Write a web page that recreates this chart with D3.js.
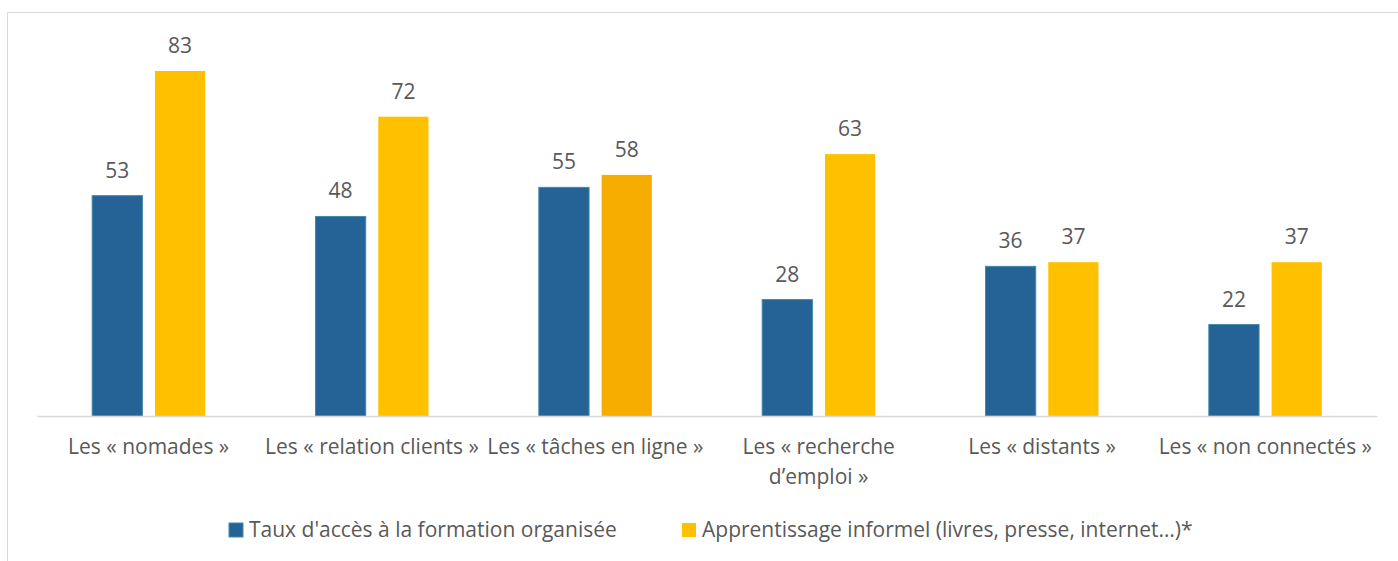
<!DOCTYPE html>
<html>
<head>
<meta charset="utf-8">
<script src="https://cdn.jsdelivr.net/npm/d3@7"></script>
<style>
  body { margin: 0; background: #fff; }
  svg text { font-family: "Open Sans", sans-serif; fill: #595959; }
</style>
</head>
<body>
<div id="chart"></div>
<script>
// Data
const categories = ["Les « nomades »", "Les « relation clients »", "Les « tâches en ligne »",
  "Les « recherche d’emploi »", "Les « distants »", "Les « non connectés »"];
const seriesNames = ["Taux d'accès à la formation organisée", "Apprentissage informel (livres, presse, internet…)*"];
const formation = [53, 48, 55, 28, 36, 22];
const informel = [83, 72, 58, 63, 37, 37];

const W = 1398, H = 561;
const colors = ["#256296", "#FFC000"];
const highlight = "#F7AD00";

const svg = d3.select("#chart")
  .append("svg")
  .attr("width", W)
  .attr("height", H);

// Frame
svg.append("line").attr("x1", 7.5).attr("x2", W).attr("y1", 12.5).attr("y2", 12.5)
  .attr("stroke", "#d9d9d9").attr("stroke-width", 1);
svg.append("line").attr("x1", 7.5).attr("x2", 7.5).attr("y1", 12.5).attr("y2", H)
  .attr("stroke", "#d9d9d9").attr("stroke-width", 1);

// Scales
const x = d3.scaleBand()
  .domain(categories)
  .range([37, 1377]);

const inner = d3.scaleBand()
  .domain([0, 1])
  .range([0, 113])
  .paddingInner(0.2);

const y = d3.scaleLinear()
  .domain([0, 90])
  .range([416, 416 - 90 * 4.157]);

const rows = categories.map((c, i) => ({ cat: c, values: [formation[i], informel[i]] }));

// Bars
const groups = svg.selectAll(".grp")
  .data(rows)
  .enter()
  .append("g")
  .attr("class", "grp")
  .attr("transform", d => `translate(${x(d.cat) + x.bandwidth() / 2 - 56.5},0)`);

groups.selectAll("rect")
  .data((d, i) => d.values.map((v, s) => ({ v, s, i })))
  .enter()
  .append("rect")
  .attr("x", d => inner(d.s))
  .attr("y", d => y(d.v))
  .attr("width", inner.bandwidth())
  .attr("height", d => y(0) - y(d.v))
  .attr("fill", d => (d.s === 1 && d.i === 2) ? highlight : colors[d.s])
  .attr("stroke", d => d.s === 0 ? "#3f8aa8" : "none")
  .attr("stroke-width", 1);

// Value labels
groups.selectAll(".val")
  .data(d => d.values.map((v, s) => ({ v, s })))
  .enter()
  .append("text")
  .attr("class", "val")
  .attr("x", d => inner(d.s) + inner.bandwidth() / 2)
  .attr("y", d => y(d.v) - 18)
  .attr("text-anchor", "middle")
  .attr("font-size", "21px")
  .text(d => d.v);

// X axis
const xAxis = svg.append("g")
  .attr("transform", `translate(0,${y(0)})`)
  .call(d3.axisBottom(x).tickSize(0).tickPadding(0));
xAxis.select(".domain").attr("stroke", "#d9d9d9").attr("stroke-width", 1.5);
xAxis.selectAll(".tick text")
  .attr("font-size", "21px")
  .attr("fill", "#595959")
  .attr("font-family", "Open Sans, sans-serif")
  .attr("dy", null)
  .attr("y", 0)
  .each(function(d) {
    const t = d3.select(this);
    const words = d.split(" ");
    t.text(null);
    let line = [], lines = [];
    const tmp = t.append("tspan");
    words.forEach(w => {
      line.push(w);
      tmp.text(line.join(" "));
      if (tmp.node().getComputedTextLength() > 225 && line.length > 1) {
        line.pop();
        lines.push(line.join(" "));
        line = [w];
      }
    });
    lines.push(line.join(" "));
    tmp.remove();
    lines.forEach((l, k) => {
      t.append("tspan").attr("x", 0).attr("y", 38 + k * 30).text(l);
    });
  });

// Legend
const legendX = [229, 682];
const legend = svg.selectAll(".leg")
  .data(seriesNames)
  .enter()
  .append("g")
  .attr("class", "leg")
  .attr("transform", (d, i) => `translate(${legendX[i]},523)`);
legend.append("rect")
  .attr("width", 14).attr("height", 14)
  .attr("fill", (d, i) => colors[i])
  .attr("stroke", (d, i) => i === 0 ? "#3f8aa8" : "none");
legend.append("text")
  .attr("x", 20)
  .attr("y", 14)
  .attr("font-size", "21px")
  .text(d => d);
</script>
</body>
</html>
